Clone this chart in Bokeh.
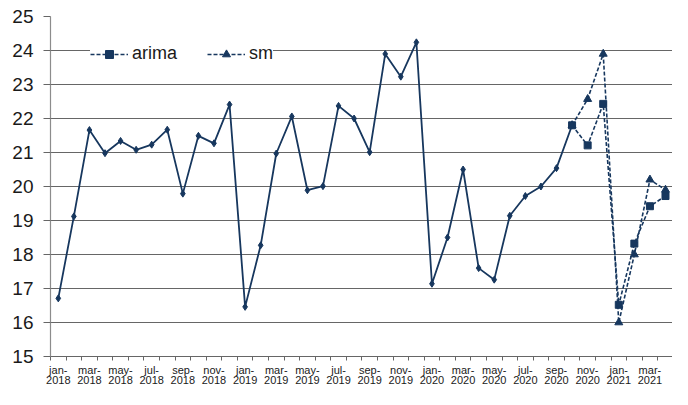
from bokeh.plotting import figure
from bokeh.models import FixedTicker, Legend, LegendItem, Range1d
from bokeh.embed import file_html
from bokeh.resources import INLINE

month_names = ["jan", "feb", "mar", "apr", "may", "jun", "jul", "aug", "sep", "oct", "nov", "dec"]
years = ["2018", "2019", "2020", "2021"]
months = [f"{m}-{y}" for y in years for m in month_names][:40]  # jan-2018 .. apr-2021

observed = [16.71, 19.12, 21.66, 20.98, 21.34, 21.08, 21.23, 21.67, 19.79, 21.49, 21.27, 22.41,
            16.46, 18.27, 20.97, 22.06, 19.89, 20.01, 22.37, 22.00, 21.01, 23.90, 23.23, 24.24,
            17.14, 18.50, 20.50, 17.60, 17.26, 19.14, 19.72, 20.00, 20.54, 21.80]

forecast_months = ["oct-2020", "nov-2020", "dec-2020", "jan-2021", "feb-2021", "mar-2021", "apr-2021"]
arima = [21.80, 21.21, 22.43, 16.52, 18.32, 19.42, 19.72]
sm = [21.80, 22.57, 23.90, 16.00, 18.00, 20.20, 19.90]

y_ticks = list(range(15, 26))

C = "#17375e"
idx = {m: i for i, m in enumerate(months)}
obs_x = [idx[m] for m in months[:len(observed)]]
fc_x = [idx[m] for m in forecast_months]

p = figure(width=672, height=389, output_backend="svg", toolbar_location=None,
           x_range=Range1d(-0.5, 39.45), y_range=Range1d(15, 25),
           min_border_left=50, min_border_top=16, min_border_right=0, min_border_bottom=0)
p.outline_line_color = None
p.background_fill_color = "white"
p.border_fill_color = "white"

# grid
p.xgrid.visible = False
p.ygrid.ticker = FixedTicker(ticks=y_ticks)
p.ygrid.grid_line_color = "#666666"
p.ygrid.grid_line_width = 1.2

# y axis
ya = p.yaxis[0]
ya.ticker = FixedTicker(ticks=y_ticks)
ya.axis_line_color = "#8c8c8c"
ya.axis_line_width = 1.2
ya.major_tick_out = 7
ya.major_tick_in = 0
ya.major_tick_line_color = "#666666"
ya.minor_tick_line_color = None
ya.major_label_text_font = "Liberation Sans"
ya.major_label_text_font_size = "19px"
ya.major_label_text_color = "#1a1a1a"
ya.major_label_standoff = 10

# x axis
xa = p.xaxis[0]
label_pos = [i for i in range(len(months)) if i % 2 == 0]
xa.ticker = FixedTicker(ticks=label_pos, minor_ticks=[i - 0.5 for i in range(len(months) + 1)])
xa.major_label_overrides = {i: months[i].replace("-", "-\n") for i in label_pos}
xa.major_tick_line_color = None
xa.major_tick_out = 0
xa.major_tick_in = 0
xa.minor_tick_out = 4
xa.minor_tick_in = 0
xa.minor_tick_line_color = "#666666"
xa.axis_line_color = "#666666"
xa.axis_line_width = 1.2
xa.major_label_text_font = "Liberation Sans"
xa.major_label_text_font_size = "11px"
xa.major_label_text_color = "#1a1a1a"
xa.major_label_text_line_height = 0.9
xa.major_label_standoff = 3

# observed series
p.line(obs_x, observed, color=C, line_width=1.8)
p.scatter(obs_x, observed, marker="diamond", size=7, color=C)

# forecasts
la = p.line(fc_x, arima, color=C, line_width=1.6, line_dash="4 2")
sa = p.scatter(fc_x, arima, marker="square", size=7, color=C)
lb = p.line(fc_x, sm, color=C, line_width=1.6, line_dash="4 2")
sb = p.scatter(fc_x, sm, marker="triangle", size=8, color=C)

legend = Legend(items=[LegendItem(label="arima", renderers=[la, sa]),
                       LegendItem(label="sm", renderers=[lb, sb])],
                orientation="horizontal", location=(40, 292))
legend.background_fill_color = "white"
legend.background_fill_alpha = 1.0
legend.border_line_color = None
legend.padding = 6
legend.spacing = 30
legend.glyph_width = 38
legend.glyph_height = 20
legend.label_height = 20
legend.label_standoff = 4
legend.label_text_font = "Liberation Sans"
legend.label_text_font_size = "18px"
legend.label_text_color = "#1a1a1a"
p.add_layout(legend, "center")

open("out.html", "w").write(file_html(p, INLINE))
